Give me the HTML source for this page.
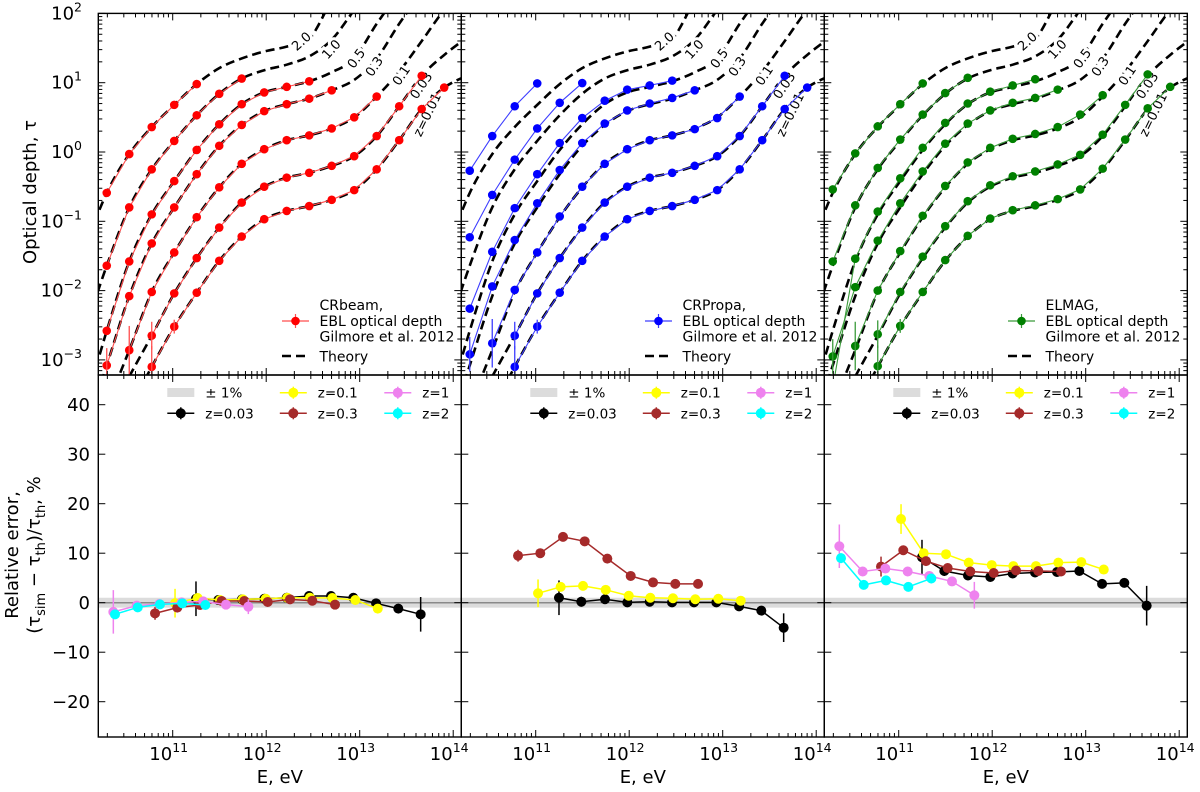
<!DOCTYPE html>
<html><head><meta charset="utf-8"><style>
html,body{margin:0;padding:0;background:#fff;}
svg{display:block;font-family:"DejaVu Sans","Liberation Sans",sans-serif;}
</style></head><body>
<svg id="chart" width="1200" height="792" viewBox="0 0 1200 792"></svg>
<script>
// ---------- data ----------
// theory grid: logE = 10.054 + 0.2406*k
const gridStart = 10.054;
const gridStep = 0.2406;
const zNames = ['z=0.01','0.03','0.1','0.3','0.5','1.0','2.0'];
const theoryZ001 = [-5.1,-4.40,-3.72,-3.10,-2.52,-2.03,-1.57,-1.22,-0.97,-0.85,-0.78,-0.69,-0.55,-0.25,0.17,0.62,0.93,1.10];
const theoryZ003 = [-4.5,-3.87,-3.24,-2.65,-2.04,-1.53,-1.09,-0.73,-0.50,-0.37,-0.30,-0.20,-0.06,0.23,0.66,1.10,1.40,1.65];
const theoryZ01  = [-4.5,-3.67,-2.86,-2.02,-1.45,-0.94,-0.51,-0.17,0.04,0.17,0.24,0.34,0.50,0.80,1.16,1.6,2.05,2.4];
const theoryZ03  = [-4.1,-3.08,-2.08,-1.32,-0.80,-0.32,0.09,0.39,0.59,0.69,0.77,0.89,1.04,1.35,1.85,2.3,2.7,3.1];
const theoryZ05  = [-3.7,-2.58,-1.58,-0.90,-0.42,0.03,0.40,0.69,0.86,0.94,1.02,1.15,1.35,1.85,2.3,2.7,3.1,3.5];
const theoryZ1   = [-2.6,-1.64,-0.80,-0.25,0.16,0.53,0.84,1.06,1.18,1.26,1.38,1.62,2.05,2.5,3.0,3.4,3.8,4.2];
const theoryZ2   = [-1.4,-0.59,-0.03,0.36,0.68,0.98,1.21,1.35,1.45,1.52,1.63,2.2,2.8,3.3,3.8,4.2,4.6,5.0];
const theoryAll = [theoryZ001,theoryZ003,theoryZ01,theoryZ03,theoryZ05,theoryZ1,theoryZ2];

// simulated log10(tau); start = grid index (k) of first point
const dataStart = [3,3,2,1,1,1,1];
const crbeamVals = [
 [-3.10,-2.52,-2.03,-1.57,-1.22,-0.97,-0.85,-0.78,-0.69,-0.55,-0.25,0.17,0.62,0.93],
 [-2.65,-2.04,-1.53,-1.09,-0.73,-0.50,-0.37,-0.30,-0.20,-0.06,0.23,0.66,1.10],
 [-2.86,-2.02,-1.45,-0.94,-0.51,-0.17,0.04,0.17,0.24,0.34,0.50,0.80],
 [-3.08,-2.08,-1.32,-0.80,-0.32,0.09,0.39,0.59,0.69,0.77,0.89],
 [-2.58,-1.58,-0.90,-0.42,0.03,0.40,0.69,0.86,0.94,1.02],
 [-1.64,-0.80,-0.25,0.16,0.53,0.84,1.06],
 [-0.59,-0.03,0.36,0.68,0.98]];
const crpropaVals = [
 [-3.10,-2.52,-2.03,-1.57,-1.22,-0.97,-0.85,-0.78,-0.69,-0.55,-0.25,0.17,0.62,0.93],
 [-2.65,-2.04,-1.53,-1.09,-0.73,-0.50,-0.37,-0.30,-0.20,-0.06,0.23,0.66,1.10],
 [-2.76,-1.99,-1.45,-0.93,-0.50,-0.17,0.04,0.17,0.24,0.33,0.49,0.80],
 [-2.92,-1.94,-1.27,-0.74,-0.26,0.13,0.41,0.60,0.70,0.78,0.89],
 [-2.26,-1.44,-0.81,-0.32,0.13,0.49,0.74,0.90,0.96,1.03],
 [-1.23,-0.62,-0.11,0.34,0.71,0.995],
 [-0.27,0.23,0.66,0.99]];
const elmagVals = [
 [-3.09,-2.51,-2.02,-1.56,-1.21,-0.96,-0.84,-0.77,-0.68,-0.54,-0.24,0.18,0.63,0.94],
 [-2.63,-2.02,-1.51,-1.07,-0.71,-0.48,-0.35,-0.28,-0.18,-0.04,0.25,0.68,1.12],
 [-2.80,-2.00,-1.43,-0.92,-0.49,-0.15,0.06,0.19,0.26,0.36,0.54,0.82],
 [-2.95,-1.95,-1.28,-0.74,-0.28,0.12,0.41,0.60,0.71,0.78,0.90],
 [-3.4,-1.54,-0.86,-0.38,0.06,0.42,0.70,0.87,0.96,1.05],
 [-1.58,-0.77,-0.23,0.18,0.54,0.85,1.07],
 [-0.54,-0.02,0.37,0.69,0.99]];
// error bars on top panels: [curve, gridIndex, half-width in dex]
const topErrs = [[2,2,0.35],[0,3,0.3],[0,4,0.1],[3,1,0.25],[1,3,0.2]];

// relative error panels
const relNames = ['z=0.03','z=0.1','z=0.3','z=1','z=2'];
const relColors = ['#000000','#ffff00','#a52a2a','#ee82ee','#00ffff'];
const relE_z003 = [11.249,11.488,11.741,11.98,12.219,12.458,12.693,12.932,13.175,13.413,13.652];
const relE_z01  = [11.025,11.267,11.506,11.749,11.995,12.226,12.468,12.707,12.953,13.193];
const relE_z03  = [10.811,11.049,11.292,11.524,11.766,12.016,12.255,12.493,12.736];
const relE_z1   = [10.365,10.615,10.857,11.096,11.327,11.570,11.809];
const relE_z2   = [10.383,10.626,10.864,11.103,11.349];
const relE = [relE_z003,relE_z01,relE_z03,relE_z1,relE_z2];

const crbeamRel = [
 [0.8,0.55,0.68,0.8,1.0,1.35,1.35,1.0,-0.13,-1.2,-2.35],
 [-0.1,0.95,0.55,0.68,0.8,1.0,1.0,0.95,0.55,-1.2],
 [-2.15,-1.0,-0.47,0.35,0.35,0.15,0.68,0.4,-0.4],
 [-1.85,-0.6,-0.27,0.07,0.27,-0.4,-0.8],
 [-2.35,-0.94,-0.34,-0.13,-0.47]];
const crbeamRelErr = [
 [3.5,1,0,0,0,0,0,0,0,0,3.5],
 [2.9,0,0,0,0,0,0,0,0,0],
 [1.3,0,0,0,0,0,0,0,0],
 [4.4,0,0,0,0,0,1.5],
 [0.8,0,0,0,0.7]];
const crpropaRel = [
 [1.0,0.2,0.7,0.07,0.2,0.07,0.07,0.07,-0.74,-1.6,-5.05],
 [1.9,3.2,3.4,2.6,1.4,1.0,0.9,0.7,0.8,0.4],
 [9.5,10.0,13.3,12.4,8.9,5.4,4.1,3.8,3.8],
 [],[]];
const crpropaRelErr = [
 [3.5,1,0,0,0,0,0,0,0,0,2.9],
 [2.8,0,0,0,0,0,0,0,0,0],
 [1.2,0,0,0,0,0,0,0,0],
 [],[]];
const elmagRel = [
 [9.2,6.4,5.5,5.2,5.9,6.1,6.2,6.4,3.8,4.0,-0.6],
 [16.9,10.0,9.8,8.1,7.6,7.4,7.4,8.1,8.2,6.7],
 [7.3,10.6,8.4,7.0,6.3,6.0,6.5,6.4,6.3],
 [11.4,6.3,6.9,6.3,5.4,4.3,1.5],
 [9.0,3.6,4.5,3.2,4.9]];
const elmagRelErr = [
 [3.5,1,0,0,0,0,0,0,0,0,4],
 [3,0,0,0,0,0,0,0,0,0],
 [2,0,0,0,0,0,0,0,0],
 [4.4,0,0,0,0,0,2.7],
 [1,0,0,0,1]];

const xTickExps = [11,12,13,14];
const yTopTickExps = [2,1,0,-1,-2,-3];
const yRelTicks = [40,30,20,10,0,-10,-20];

// ---------- geometry ----------
const panelX = [98.3,461.3,824.3], PW = 363;
const topY0 = 13.4, topY1 = 375, botY0 = 375, botY1 = 737;
const xs = (p, lE) => panelX[p] + 74.4 + (lE - 11) * 93.5;
const yTop = lt => topY0 + (2 - lt) * 69.3;
const yBot = v => 602.7 - v * 4.95;
const NS = 'http://www.w3.org/2000/svg';
const svg = document.getElementById('chart');
function mk(tag, attrs, parent) {
  const e = document.createElementNS(NS, tag);
  for (const k in attrs) e.setAttribute(k, attrs[k]);
  (parent || svg).appendChild(e);
  return e;
}
function smoothPath(pts) {
  let d = 'M' + pts[0][0].toFixed(2) + ',' + pts[0][1].toFixed(2);
  for (let i = 0; i < pts.length - 1; i++) {
    const p0 = pts[Math.max(0, i - 1)], p1 = pts[i], p2 = pts[i + 1], p3 = pts[Math.min(pts.length - 1, i + 2)];
    const c1 = [p1[0] + (p2[0] - p0[0]) / 6, p1[1] + (p2[1] - p0[1]) / 6];
    const c2 = [p2[0] - (p3[0] - p1[0]) / 6, p2[1] - (p3[1] - p1[1]) / 6];
    d += 'C' + c1[0].toFixed(2) + ',' + c1[1].toFixed(2) + ' ' + c2[0].toFixed(2) + ',' + c2[1].toFixed(2) + ' ' + p2[0].toFixed(2) + ',' + p2[1].toFixed(2);
  }
  return d;
}
const defs = mk('defs', {});
for (let p = 0; p < 3; p++) {
  const c1 = mk('clipPath', {id: 'ct' + p}, defs);
  mk('rect', {x: panelX[p], y: topY0, width: PW, height: topY1 - topY0}, c1);
  const c2 = mk('clipPath', {id: 'cb' + p}, defs);
  mk('rect', {x: panelX[p], y: botY0, width: PW, height: botY1 - botY0}, c2);
}

const topSets = [crbeamVals, crpropaVals, elmagVals];
const topColors = ['#ff0000', '#0000ff', '#008000'];
const topLine = ['#ff4d4d', '#3d3dff', '#3a9a3a'];
const codeNames = ['CRbeam,', 'CRPropa,', 'ELMAG,'];
const relSets = [crbeamRel, crpropaRel, elmagRel];
const relErrSets = [crbeamRelErr, crpropaRelErr, elmagRelErr];
const labelPos = [[329.7,115,-64],[323.7,86,-56],[303.7,76,-56],[276.7,67,-56],[258.7,59,-54],[233.7,50,-48],[203.7,42,-42]];
const codeKeys = ['crbeam','crpropa','elmag'];

for (let p = 0; p < 3; p++) {
  const key = codeKeys[p];
  // ---- top panel ----
  const gTop = mk('g', {'clip-path': 'url(#ct' + p + ')'});
  
  
  theoryAll.forEach((arr, zi) => {
    const pts = arr.map((v, k) => [xs(p, gridStart + gridStep * k), yTop(v)]);
    const path = mk('path', {d: smoothPath(pts), fill: 'none', stroke: '#000', 'stroke-width': 2.6, 'stroke-dasharray': '9,5'}, gTop);
    
    
  });
  labelPos.forEach((lp, zi) => {
    const x = panelX[p] + lp[0], y = lp[1];
    const t = mk('text', {x: x, y: y, 'font-size': 13, 'text-anchor': 'middle', 'dominant-baseline': 'central',
      transform: 'rotate(' + lp[2] + ' ' + x + ' ' + y + ')', stroke: '#fff', 'stroke-width': 6, 'paint-order': 'stroke', fill: '#000'}, gTop);
    t.textContent = zNames[zi];
    
    
  });
  topSets[p].forEach((vals, zi) => {
    const pts = vals.map((v, j) => [xs(p, gridStart + gridStep * (dataStart[zi] + j)), yTop(v)]);
    const pl = mk('polyline', {points: pts.map(q => q.join(',')).join(' '), fill: 'none', stroke: topLine[p], 'stroke-width': 1.1}, gTop);
    
    
    pts.forEach(q => {
      const c = mk('circle', {cx: q[0], cy: q[1], r: 4.3, fill: topColors[p]}, gTop);
      
      
    });
  });
  topErrs.forEach(e => {
    const idx = e[1] - dataStart[e[0]];
    const v = topSets[p][e[0]][idx];
    if (v === undefined) return;
    const x = xs(p, gridStart + gridStep * e[1]);
    const l = mk('line', {x1: x, x2: x, y1: yTop(v + e[2]), y2: yTop(v - e[2]), stroke: topLine[p], 'stroke-width': 1.3}, gTop);
    
    
  });
  // top legend
  const lg = mk('g', {});
  
  
  const lx = panelX[p] + 183.7;
  mk('line', {x1: lx, x2: lx + 27, y1: 321, y2: 321, stroke: topLine[p], 'stroke-width': 1.2}, lg);
  mk('line', {x1: lx + 13.5, x2: lx + 13.5, y1: 314, y2: 328, stroke: topLine[p], 'stroke-width': 1.2}, lg);
  mk('circle', {cx: lx + 13.5, cy: 321, r: 4.3, fill: topColors[p]}, lg);
  mk('line', {x1: lx, x2: lx + 27, y1: 356, y2: 356, stroke: '#000', 'stroke-width': 2.6, 'stroke-dasharray': '9,5'}, lg);
  [[codeNames[p], 310], ['EBL optical depth', 326], ['Gilmore et al. 2012', 341.5], ['Theory', 361.5]].forEach(r => {
    const t = mk('text', {x: lx + 37.5, y: r[1], 'font-size': 14, fill: '#000'}, lg);
    t.textContent = r[0];
  });

  // ---- bottom panel ----
  const gBot = mk('g', {'clip-path': 'url(#cb' + p + ')'});
  
  
  const band = mk('rect', {x: panelX[p], y: yBot(1), width: PW, height: yBot(-1) - yBot(1), fill: '#dcdcdc'}, gBot);
  
  
  const zl = mk('line', {x1: panelX[p], x2: panelX[p] + PW, y1: yBot(0), y2: yBot(0), stroke: '#8a8a8a', 'stroke-width': 1.5}, gBot);
  
  
  relSets[p].forEach((vals, si) => {
    if (!vals.length) return;
    const col = relColors[si];
    const pts = vals.map((v, j) => [xs(p, relE[si][j]), yBot(v)]);
    const pl = mk('polyline', {points: pts.map(q => q.join(',')).join(' '), fill: 'none', stroke: col, 'stroke-width': 1.5}, gBot);
    
    
    pts.forEach((q, j) => {
      const er = relErrSets[p][si][j] || 0;
      if (er > 0) {
        const l = mk('line', {x1: q[0], x2: q[0], y1: yBot(vals[j] + er), y2: yBot(vals[j] - er), stroke: col, 'stroke-width': 1.5}, gBot);
        
        
      }
      const c = mk('circle', {cx: q[0], cy: q[1], r: 5, fill: col}, gBot);
      
      
    });
  });
  // bottom legend
  const bl = mk('g', {});
  
  
  const bx = panelX[p];
  mk('rect', {x: bx + 69, y: 388, width: 27, height: 9, fill: '#dcdcdc'}, bl);
  const lt0 = mk('text', {x: bx + 107, y: 397.5, 'font-size': 13.5}, bl); lt0.textContent = '± 1%';
  const entries = [[0, 69, 413.3, 107], [1, 181.5, 392.7, 219.5], [2, 181.5, 413.3, 219.5], [3, 286, 392.7, 324], [4, 286, 413.3, 324]];
  entries.forEach(en => {
    const col = relColors[en[0]];
    mk('line', {x1: bx + en[1], x2: bx + en[1] + 27, y1: en[2], y2: en[2], stroke: col, 'stroke-width': 1.5}, bl);
    mk('line', {x1: bx + en[1] + 13.5, x2: bx + en[1] + 13.5, y1: en[2] - 6, y2: en[2] + 6, stroke: col, 'stroke-width': 1.5}, bl);
    mk('circle', {cx: bx + en[1] + 13.5, cy: en[2], r: 5, fill: col}, bl);
    const t = mk('text', {x: bx + en[3], y: en[2] + 5, 'font-size': 13.5}, bl);
    t.textContent = relNames[en[0]];
  });

  // ---- frames & ticks ----
  const ax = mk('g', {stroke: '#000', 'stroke-width': 1});
  
  
  [[topY0, topY1], [botY0, botY1]].forEach(r => {
    mk('rect', {x: panelX[p], y: r[0], width: PW, height: r[1] - r[0], fill: 'none', 'stroke-width': 1.4}, ax);
    for (let e = 10; e <= 14; e++) {
      for (let m = 1; m <= 9; m++) {
        const x = xs(p, e + Math.log10(m));
        if (x < panelX[p] || x > panelX[p] + PW) continue;
        const L = m === 1 ? 7 : 4;
        mk('line', {x1: x, x2: x, y1: r[1], y2: r[1] - L}, ax);
        mk('line', {x1: x, x2: x, y1: r[0], y2: r[0] + L}, ax);
      }
    }
  });
  for (let e = -4; e <= 2; e++) {
    for (let m = 1; m <= 9; m++) {
      const y = yTop(e + Math.log10(m));
      if (y < topY0 - 0.5 || y > topY1) continue;
      const L = m === 1 ? 7 : 4;
      mk('line', {x1: panelX[p], x2: panelX[p] + L, y1: y, y2: y}, ax);
      mk('line', {x1: panelX[p] + PW, x2: panelX[p] + PW - L, y1: y, y2: y}, ax);
    }
  }
  yRelTicks.forEach(v => {
    const y = yBot(v);
    mk('line', {x1: panelX[p], x2: panelX[p] + 7, y1: y, y2: y}, ax);
    mk('line', {x1: panelX[p] + PW, x2: panelX[p] + PW - 7, y1: y, y2: y}, ax);
  });
  xTickExps.forEach(e => {
    const t = mk('text', {x: xs(p, e) - 4, y: 760, 'font-size': 18, 'text-anchor': 'middle'});
    
    
    const s1 = mk('tspan', {}, t); s1.textContent = '10';
    const s2 = mk('tspan', {'font-size': 12.5, dy: -8}, t); s2.textContent = String(e);
  });
  const xl = mk('text', {x: panelX[p] + PW / 2, y: 783, 'font-size': 18, 'text-anchor': 'middle'});
  xl.textContent = 'E, eV';
  
  
}
yTopTickExps.forEach(e => {
  const t = mk('text', {x: 82, y: yTop(e) + 6, 'font-size': 18, 'text-anchor': 'end'});
  
  
  const s1 = mk('tspan', {}, t); s1.textContent = '10';
  const s2 = mk('tspan', {'font-size': 12.5, dy: -8}, t); s2.textContent = e < 0 ? '\u2212' + (-e) : String(e);
});
yRelTicks.forEach(v => {
  const t = mk('text', {x: 90, y: yBot(v) + 6.5, 'font-size': 18, 'text-anchor': 'end'});
  t.textContent = v < 0 ? '\u2212' + (-v) : String(v);
  
  
});
const yt1 = mk('text', {x: 0, y: 0, 'font-size': 18, 'text-anchor': 'middle', transform: 'translate(36,192) rotate(-90)'});
yt1.textContent = 'Optical depth, \u03c4';


const yt2 = mk('text', {x: 0, y: 0, 'font-size': 18, 'text-anchor': 'middle', transform: 'translate(18,555) rotate(-90)'});
yt2.textContent = 'Relative error,';


const yt3 = mk('text', {x: 0, y: 0, 'font-size': 18, 'text-anchor': 'middle', transform: 'translate(40,555) rotate(-90)'});


[['(\u03c4', null], ['sim', 5], [' \u2212 \u03c4', -5], ['th', 5], [')/\u03c4', -5], ['th', 5], [', %', -5]].forEach(s => {
  const ts = mk('tspan', s[1] === null ? {} : {dy: s[1], 'font-size': s[1] > 0 ? 13 : 18}, yt3);
  ts.textContent = s[0];
});
</script>
</body></html>
